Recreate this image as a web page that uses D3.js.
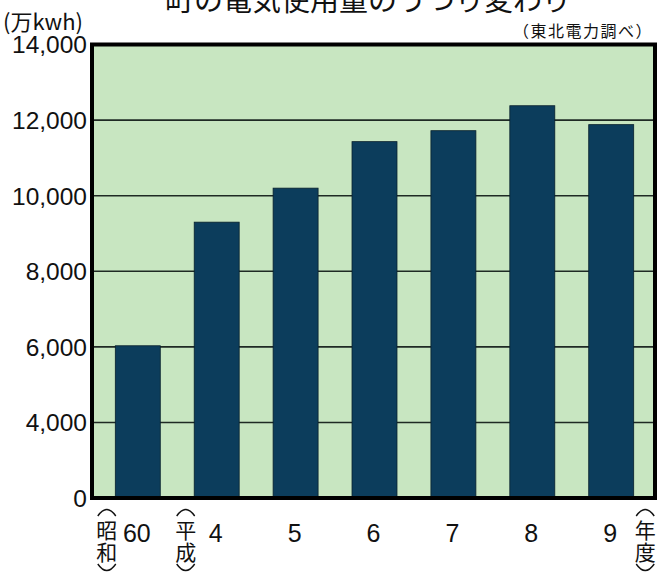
<!DOCTYPE html>
<html>
<head>
<meta charset="utf-8">
<script src="https://cdn.jsdelivr.net/npm/d3@7"></script>
<style>
  body { margin: 0; background: #fff; }
  svg { display: block; }
</style>
</head>
<body>
<div id="chart"></div>
<script>
// data
const years = ["60", "4", "5", "6", "7", "8", "9"]
const usage = [6030, 9300, 10200, 11430, 11720, 12380, 11880]
const yTicks = [0, 4000, 6000, 8000, 10000, 12000, 14000]
const gridTicks = [4000, 6000, 8000, 10000, 12000]
const eraMarks = [{i: 0, text: ["昭", "和"]}, {i: 1, text: ["平", "成"]}]

const W = 658, H = 574
const latin = "'Liberation Sans', Arial, sans-serif"
const cjk = "'Noto Sans CJK JP', sans-serif"

let svg = d3.select("#chart")
    .append("svg")
    .attr("width", W)
    .attr("height", H)

// plot frame
const plotL = 92, plotR = 655, plotT = 44.5, plotB = 498

// y axis is broken: 0..4000 squeezed into one step
const y = d3.scaleLinear()
    .domain([0, 4000, 14000])
    .range([plotB, 422.5, plotT])

const x = d3.scaleBand()
    .domain(years)
    .range([plotL + 2, plotR])
    .paddingInner(0.43)
    .paddingOuter(0.27)

// background
svg.append("rect")
    .attr("x", plotL)
    .attr("y", plotT)
    .attr("width", plotR - plotL)
    .attr("height", plotB - plotT)
    .attr("fill", "#c8e6c1")

// grid lines
svg.selectAll(".grid")
    .data(gridTicks)
    .join("line")
    .attr("class", "grid")
    .attr("x1", plotL)
    .attr("x2", plotR)
    .attr("y1", d => y(d))
    .attr("y2", d => y(d))
    .attr("stroke", "#1f2a24")
    .attr("stroke-width", 1.6)

// bars
svg.selectAll(".bar")
    .data(usage)
    .join("rect")
    .attr("class", "bar")
    .attr("x", (d, i) => x(years[i]))
    .attr("width", x.bandwidth())
    .attr("y", d => y(d))
    .attr("height", d => y(0) - y(d))
    .attr("fill", "#0c3d5c")
    .attr("stroke", "#08202c")
    .attr("stroke-width", 0.8)

// frame
svg.append("path")
    .attr("d", `M${plotL},${plotT}H${plotR}V${plotB}H${plotL}Z`)
    .attr("fill", "none")
    .attr("stroke", "#000")
    .attr("stroke-width", 4)

// y labels
svg.selectAll(".ylab")
    .data(yTicks)
    .join("text")
    .attr("class", "ylab")
    .attr("x", 87)
    .attr("y", d => y(d))
    .attr("dy", "0.36em")
    .attr("text-anchor", "end")
    .style("font-family", latin)
    .style("font-size", "24.5px")
    .attr("fill", "#111")
    .text(d => d3.format(",")(d))

// x labels (years)
svg.selectAll(".xlab")
    .data(years)
    .join("text")
    .attr("class", "xlab")
    .attr("x", d => x(d) + x.bandwidth() / 2 - 1)
    .attr("y", 542)
    .attr("text-anchor", "middle")
    .style("font-family", latin)
    .style("font-size", "25px")
    .attr("fill", "#111")
    .text(d => d)

// vertical bracketed words
function verticalWord(cx, chars) {
    let g = svg.append("g").style("font-family", cjk).attr("fill", "#111")
    g.append("path")
        .attr("d", `M${cx - 9},${516} Q${cx},${503} ${cx + 9},${516}`)
        .attr("fill", "none").attr("stroke", "#111").attr("stroke-width", 1.4)
    let t = g.append("text")
        .attr("text-anchor", "middle")
        .style("font-size", "21px")
    chars.forEach((c, k) => {
        t.append("tspan")
            .attr("x", cx)
            .attr("y", 538 + k * 22)
            .text(c)
    })
    g.append("path")
        .attr("d", `M${cx - 9},${564} Q${cx},${577} ${cx + 9},${564}`)
        .attr("fill", "none").attr("stroke", "#111").attr("stroke-width", 1.4)
}
eraMarks.forEach(m => verticalWord(x(years[m.i]) + x.bandwidth() / 2 - 31, m.text))
verticalWord(x(years[6]) + x.bandwidth() / 2 + 34, ["年", "度"])

// title (cut off at top like the scan)
svg.append("text")
    .attr("x", 368)
    .attr("y", 11)
    .attr("text-anchor", "middle")
    .style("font-family", cjk)
    .style("font-size", "29px")
    .attr("fill", "#111")
    .text("町の電気使用量のうつり変わり")

svg.append("text")
    .attr("x", 3)
    .attr("y", 30)
    .style("font-family", cjk)
    .style("font-size", "22px")
    .attr("fill", "#111")
    .text("(万kwh)")

svg.append("text")
    .attr("x", 653)
    .attr("y", 37)
    .attr("text-anchor", "end")
    .style("font-family", cjk)
    .style("font-size", "16px")
    .style("letter-spacing", "1.5px")
    .attr("fill", "#111")
    .text("（東北電力調べ）")
</script>
</body>
</html>
